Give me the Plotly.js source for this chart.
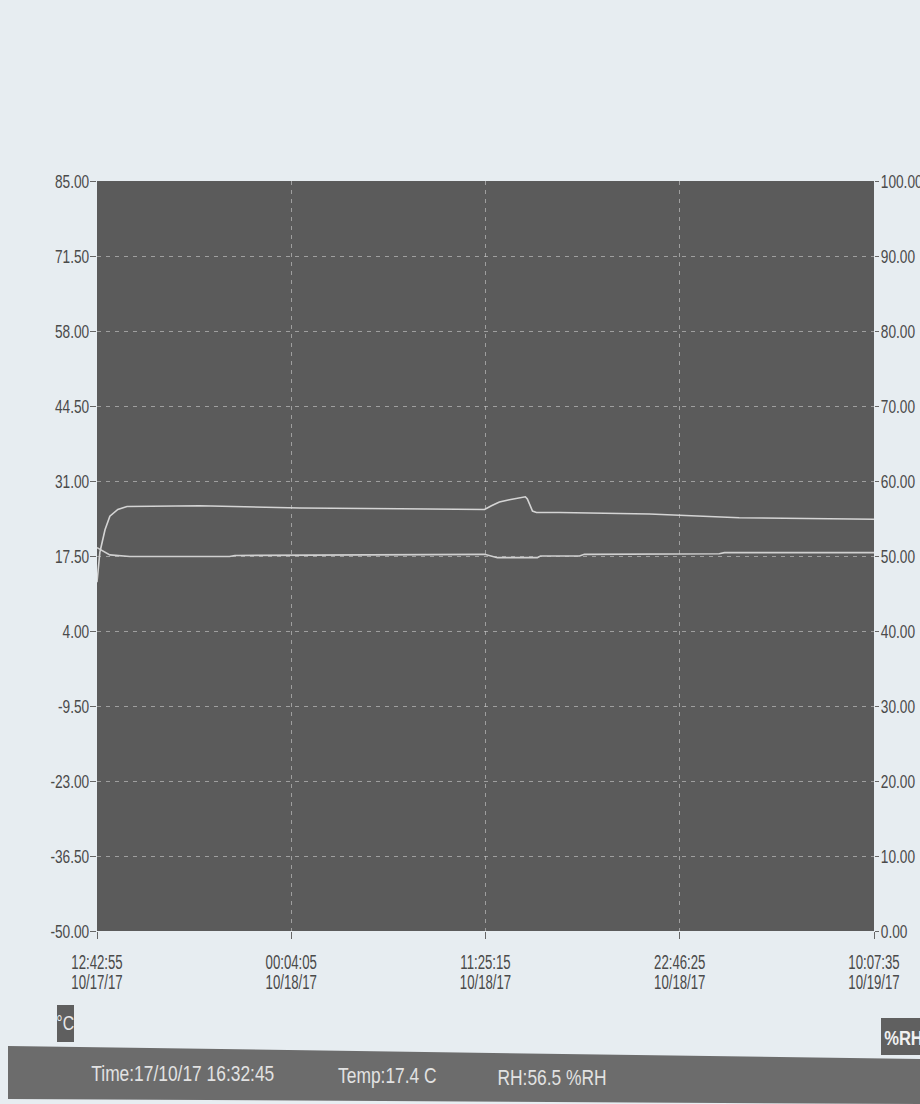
<!DOCTYPE html>
<html>
<head>
<meta charset="utf-8">
<script src="https://cdn.plot.ly/plotly-3.0.1.min.js"></script>
<style>
  html, body { margin: 0; padding: 0; background: #e7edf1; }
  #chart { width: 920px; height: 1104px; }
</style>
</head>
<body>
<div id="chart"></div>
<script>
// ---- data ----
const rhTimes = [
  '2017-10-17 12:42:55', '2017-10-17 12:53:00', '2017-10-17 13:11:00', '2017-10-17 13:28:00',
  '2017-10-17 13:56:00', '2017-10-17 14:28:00', '2017-10-17 18:43:00', '2017-10-18 00:34:00',
  '2017-10-18 06:24:00', '2017-10-18 11:22:00', '2017-10-18 11:46:00', '2017-10-18 12:14:00',
  '2017-10-18 12:49:00', '2017-10-18 13:24:00', '2017-10-18 13:45:00', '2017-10-18 13:52:00',
  '2017-10-18 14:10:00', '2017-10-18 14:24:00', '2017-10-18 15:45:00', '2017-10-18 21:00:00',
  '2017-10-18 23:55:00', '2017-10-19 02:15:00', '2017-10-19 10:07:35'
];
const rhValues = [
  46.5, 50.5, 53.5, 55.3,
  56.2, 56.6, 56.7, 56.4,
  56.3, 56.2, 56.7, 57.2,
  57.5, 57.7, 57.9, 57.6,
  56.0, 55.8, 55.8, 55.6,
  55.3, 55.1, 54.9
];
const tempTimes = [
  '2017-10-17 12:42:55', '2017-10-17 12:53:00', '2017-10-17 13:11:00', '2017-10-17 13:28:00',
  '2017-10-17 14:38:00', '2017-10-17 20:28:00', '2017-10-17 20:46:00', '2017-10-18 06:24:00',
  '2017-10-18 11:22:00', '2017-10-18 12:07:00', '2017-10-18 14:27:00', '2017-10-18 14:38:00',
  '2017-10-18 16:55:00', '2017-10-18 17:12:00', '2017-10-19 01:05:00', '2017-10-19 01:23:00',
  '2017-10-19 10:07:35'
];
const tempValues = [
  19.0, 18.7, 18.2, 17.7,
  17.4, 17.4, 17.6, 17.7,
  17.8, 17.2, 17.2, 17.5,
  17.5, 17.8, 17.9, 18.1,
  18.1
];
const xTickVals = ['2017-10-17 12:42:55', '2017-10-18 00:04:05', '2017-10-18 11:25:15', '2017-10-18 22:46:25', '2017-10-19 10:07:35'];
const xTickText = ['12:42:55<br>10/17/17', '00:04:05<br>10/18/17', '11:25:15<br>10/18/17', '22:46:25<br>10/18/17', '10:07:35<br>10/19/17'];
const tempTickVals = [85, 71.5, 58, 44.5, 31, 17.5, 4, -9.5, -23, -36.5, -50];
const rhTickVals = [0, 10, 20, 30, 40, 50, 60, 70, 80, 90, 100];
const statusTime = 'Time:17/10/17 16:32:45';
const statusTemp = 'Temp:17.4 C';
const statusRH = 'RH:56.5 %RH';

// ---- layout helpers (pixel -> paper) ----
const L = 97, R = 874, T = 181, B = 931;
const px = x => (x - L) / (R - L);
const py = y => (B - y) / (B - T);

const FONT = '"Liberation Sans", Arial, sans-serif';
const gridColor = 'rgba(205,205,205,0.6)';

const traces = [
  {
    x: rhTimes, y: rhValues, yaxis: 'y2', type: 'scatter', mode: 'lines',
    line: { color: '#d4d4d4', width: 1.6 }, name: '%RH'
  },
  {
    x: tempTimes, y: tempValues, yaxis: 'y', type: 'scatter', mode: 'lines',
    line: { color: '#d0d0d0', width: 1.6 }, name: '°C'
  }
];

const barPath = 'M ' + px(8) + ',' + py(1046) + ' L ' + px(920) + ',' + py(1059) +
                ' L ' + px(920) + ',' + py(1104) + ' L ' + px(8) + ',' + py(1099) + ' Z';

const layout = {
  width: 920, height: 1104,
  margin: { l: L, r: 920 - R, t: T, b: 1104 - B, pad: 0 },
  paper_bgcolor: '#e7edf1',
  plot_bgcolor: '#5b5b5b',
  showlegend: false,
  font: { family: FONT, color: '#4a4a4a', size: 17 },
  xaxis: {
    type: 'date',
    range: ['2017-10-17 12:42:55', '2017-10-19 10:07:35'],
    tickmode: 'array', tickvals: xTickVals, ticktext: xTickText,
    ticks: 'outside', ticklen: 7, tickcolor: '#666', tickwidth: 1,
    ticklabelstandoff: 6,
    showgrid: true, gridcolor: gridColor, griddash: '4px,5px', gridwidth: 1,
    zeroline: false, showline: false,
    tickfont: { family: FONT, size: 20, color: '#4a4a4a' },
    fixedrange: true
  },
  yaxis: {
    range: [-50, 85],
    tickmode: 'array', tickvals: tempTickVals, ticktext: tempTickVals.map(v => v.toFixed(2)),
    ticks: 'outside', ticklen: 6, tickcolor: '#666', tickwidth: 1,
    ticklabelstandoff: -3,
    showgrid: true, gridcolor: gridColor, griddash: '4px,5px', gridwidth: 1,
    zeroline: false, showline: false,
    tickfont: { family: FONT, size: 19, color: '#4a4a4a' },
    fixedrange: true
  },
  yaxis2: {
    range: [0, 100], overlaying: 'y', side: 'right',
    tickmode: 'array', tickvals: rhTickVals, ticktext: rhTickVals.map(v => v.toFixed(2)),
    ticks: 'outside', ticklen: 4, tickcolor: '#666', tickwidth: 1,
    ticklabelstandoff: -2,
    showgrid: false, zeroline: false, showline: false,
    tickfont: { family: FONT, size: 19, color: '#4a4a4a' },
    fixedrange: true
  },
  shapes: [
    // bottom status bar
    { type: 'path', xref: 'paper', yref: 'paper', path: barPath,
      fillcolor: '#6c6c6c', line: { width: 0 }, layer: 'above' },
    // °C badge
    { type: 'rect', xref: 'paper', yref: 'paper', x0: px(57), x1: px(74), y0: py(1042), y1: py(1005),
      fillcolor: '#5f5f5f', line: { width: 0 }, layer: 'above' },
    // %RH badge
    { type: 'rect', xref: 'paper', yref: 'paper', x0: px(881), x1: px(925), y0: py(1055), y1: py(1018),
      fillcolor: '#606060', line: { width: 0 }, layer: 'above' }
  ],
  annotations: [
    { xref: 'paper', yref: 'paper', x: px(183), y: py(1073), xanchor: 'center', yanchor: 'middle',
      text: statusTime, showarrow: false, font: { family: FONT, size: 22, color: '#e2e2e2' } },
    { xref: 'paper', yref: 'paper', x: px(387), y: py(1075), xanchor: 'center', yanchor: 'middle',
      text: statusTemp, showarrow: false, font: { family: FONT, size: 22, color: '#e2e2e2' } },
    { xref: 'paper', yref: 'paper', x: px(552), y: py(1077), xanchor: 'center', yanchor: 'middle',
      text: statusRH, showarrow: false, font: { family: FONT, size: 22, color: '#e2e2e2' } },
    { xref: 'paper', yref: 'paper', x: px(65), y: py(1023), xanchor: 'center', yanchor: 'middle',
      text: '°C', showarrow: false, font: { family: FONT, size: 20, color: '#e8e8e8' } },
    { xref: 'paper', yref: 'paper', x: px(904), y: py(1037), xanchor: 'center', yanchor: 'middle',
      text: '<b>%RH</b>', showarrow: false, font: { family: FONT, size: 21, color: '#f0f0f0' } }
  ]
};

// Emulate the very narrow face of the logger software by compressing the
// real SVG text horizontally.
function narrow(gd, selector, factor) {
  gd.querySelectorAll(selector).forEach(function (t) {
    const lines = t.querySelectorAll('tspan.line');
    const targets = lines.length ? Array.from(lines) : [t];
    targets.forEach(function (el) {
      const w = el.getComputedTextLength();
      if (w > 0) {
        el.setAttribute('textLength', (w * factor).toFixed(2));
        el.setAttribute('lengthAdjust', 'spacingAndGlyphs');
      }
    });
  });
}

Plotly.newPlot('chart', traces, layout, { staticPlot: true, displayModeBar: false })
  .then(function (gd) {
    // tighter line spacing for the two-line time labels
    gd.querySelectorAll('.xtick text tspan.line').forEach(function (ts) {
      if (ts.getAttribute('dy') && ts.getAttribute('dy') !== '0em') ts.setAttribute('dy', '1.0em');
    });
    narrow(gd, '.xtick text', 0.66);
    narrow(gd, '.ytick text', 0.72);
    narrow(gd, '.y2tick text', 0.72);
    narrow(gd, '.annotation-text', 0.79);
  });
</script>
</body>
</html>
